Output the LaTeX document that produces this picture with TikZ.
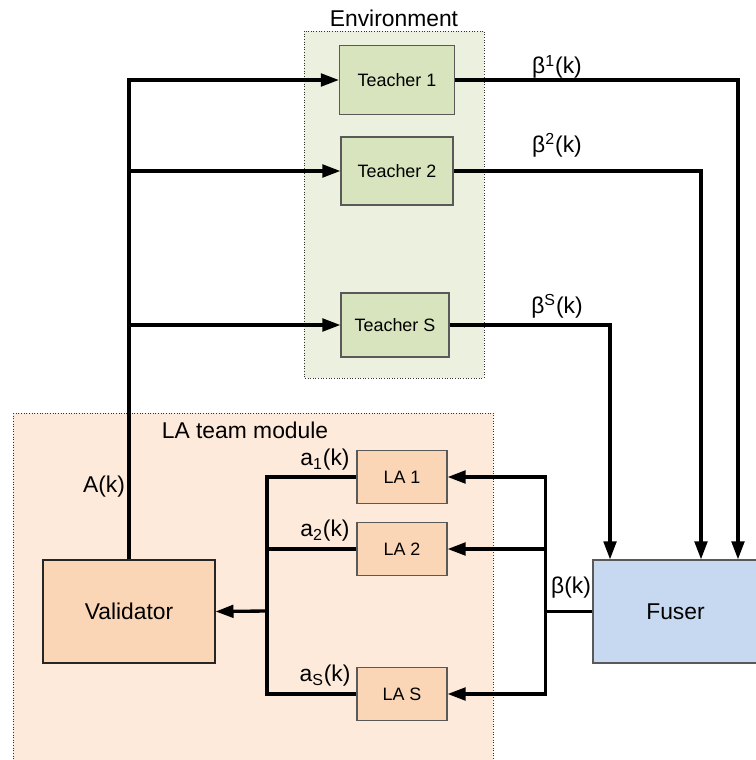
\documentclass[tikz,border=0pt]{standalone}
\usepackage{fontspec}
\setmainfont{Liberation Sans}
\usetikzlibrary{arrows.meta}

\definecolor{envGreen}{HTML}{EBF1DE}
\definecolor{teacherGreen}{HTML}{D7E4BD}
\definecolor{moduleOrange}{HTML}{FDEADA}
\definecolor{laOrange}{HTML}{FAD6B6}
\definecolor{fuserBlue}{HTML}{C6D9F1}

\begin{document}
\begin{tikzpicture}[x = 0.02cm, y = -0.02cm, font = \fontsize{10.2}{12}\selectfont]
	\tikzstyle{boxStyle} = [draw = black!65, line width = 0.6pt, inner sep = 0pt]
	\tikzstyle{teacherStyle} = [boxStyle, fill = teacherGreen]
	\tikzstyle{laStyle} = [boxStyle, fill = laOrange, minimum width = 1.8cm, minimum height = 1.06cm]
	\tikzstyle{bigStyle} = [boxStyle, font = \fontsize{13}{15}\selectfont, minimum width = 3.44cm, minimum height = 2.06cm]
	\tikzstyle{areaStyle} = [draw = black!80, densely dotted, line width = 0.5pt]
	\tikzstyle{labelStyle} = [font = \fontsize{13}{15}\selectfont, inner sep = 0pt]
	\tikzstyle{wireStyle} = [line width = 1.9pt]
	\tikzstyle{arrowStyle} = [wireStyle, -{Triangle[length = 0.36cm, width = 0.25cm]}]
	\useasboundingbox (0, 0) rectangle (755, 760);
	% areas
	\draw[areaStyle, fill = envGreen] (304, 31) rectangle (484, 378);
	\draw[areaStyle, fill = moduleOrange] (13, 413) rectangle (493, 765);
	\node[labelStyle] (env) at (394, 18) {Environment};
	\node[labelStyle] (team) at (245, 430) {LA team module};
	% blocks
	\node[teacherStyle, minimum width = 2.3cm, minimum height = 1.38cm] (t1) at (397, 80) {Teacher 1};
	\node[teacherStyle, minimum width = 2.24cm, minimum height = 1.36cm] (t2) at (397, 171) {Teacher 2};
	\node[teacherStyle, minimum width = 2.16cm, minimum height = 1.28cm] (tS) at (395, 325) {Teacher S};
	\node[laStyle] (la1) at (402, 477) {LA 1};
	\node[laStyle] (la2) at (402, 549) {LA 2};
	\node[laStyle] (laS) at (402, 694) {LA S};
	\node[bigStyle, fill = laOrange, draw = black!85] (val) at (129, 611.5) {Validator};
	\node[bigStyle, fill = fuserBlue, minimum width = 3.3cm] (fus) at (675.5, 611.5) {Fuser};
	\coordinate (lbus) at (267, 611);
	% connectors
	\draw[arrowStyle] (val.north) |- (t1.west);
	\draw[arrowStyle] (val.north) |- (t2.west);
	\draw[arrowStyle] (val.north) |- (tS.west);
	\draw[arrowStyle] (t1.east) -| ([xshift = 1.25cm]fus.north);
	\draw[arrowStyle] (t2.east) -| ([xshift = 0.51cm]fus.north);
	\draw[arrowStyle] (tS.east) -| ([xshift = -1.31cm]fus.north);
	\draw[arrowStyle] (fus.west) -- ++(-47, 0) |- (la1.east);
	\draw[arrowStyle] (fus.west) -- ++(-47, 0) |- (la2.east);
	\draw[arrowStyle] (fus.west) -- ++(-47, 0) |- (laS.east);
	\draw[wireStyle] (la1.west) -| (lbus);
	\draw[wireStyle] (la2.west) -| (lbus);
	\draw[wireStyle] (laS.west) -| (lbus);
	\draw[arrowStyle] (lbus) -- (val.east);
	% signal labels
	\node[labelStyle] (b1) at (557, 67) {β\textsuperscript{1}(k)};
	\node[labelStyle] (b2) at (557, 145) {β\textsuperscript{2}(k)};
	\node[labelStyle] (bS) at (557, 306) {β\textsuperscript{S}(k)};
	\node[labelStyle] (bk) at (571, 588) {β(k)};
	\node[labelStyle] (ak) at (104, 487) {A(k)};
	\node[labelStyle] (a1) at (325, 460) {a\textsubscript{1}(k)};
	\node[labelStyle] (a2) at (325, 531) {a\textsubscript{2}(k)};
	\node[labelStyle] (aS) at (325, 676) {a\textsubscript{S}(k)};
\end{tikzpicture}
\end{document}
